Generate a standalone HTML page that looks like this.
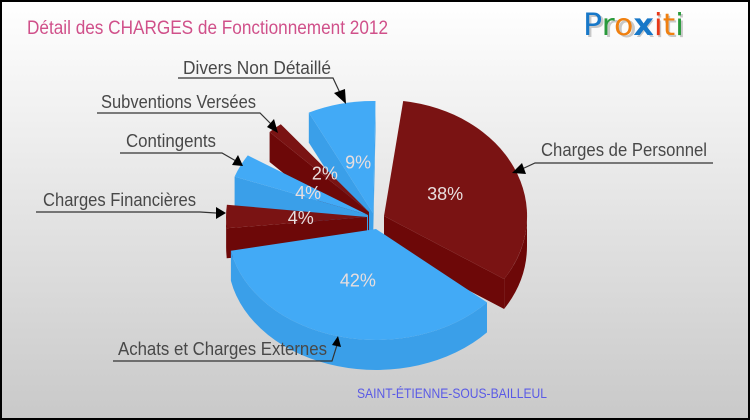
<!DOCTYPE html>
<html lang="fr">
<head>
<meta charset="utf-8">
<title>Détail des CHARGES de Fonctionnement 2012</title>
<style>
html,body{margin:0;padding:0;background:#fff}
svg{display:block}
text{font-family:"Liberation Sans",sans-serif}
.lbl{font-size:18px;fill:#484848}
.lead{fill:none;stroke:#333;stroke-width:1.2}
.head{fill:#000}
</style>
</head>
<body>
<svg id="chart" xmlns="http://www.w3.org/2000/svg" width="750" height="420" viewBox="0 0 750 420">
<defs>
<linearGradient id="bg" x1="0" y1="0" x2="0" y2="1"><stop offset="0" stop-color="#ffffff"/><stop offset="1" stop-color="#c9c9c9"/></linearGradient>
</defs>
<rect x="1" y="1" width="748" height="418" fill="url(#bg)" stroke="#000" stroke-width="2"/>
<text x="27" y="34" font-size="19" fill="#d0508a" textLength="361" lengthAdjust="spacingAndGlyphs">Détail des CHARGES de Fonctionnement 2012</text>
<g>
<text x="585" y="37" font-size="30" fill="#c8c8c8" textLength="101" lengthAdjust="spacingAndGlyphs" style="font-family:'DejaVu Sans',sans-serif">Proxiti</text>
<text x="583" y="35" font-size="30" textLength="101" lengthAdjust="spacingAndGlyphs" style="font-family:'DejaVu Sans',sans-serif"><tspan fill="#1878c8">P</tspan><tspan fill="#2a9a3c">r</tspan><tspan fill="#f08010">o</tspan><tspan fill="#1878c8" font-weight="bold">x</tspan><tspan fill="#e83818">i</tspan><tspan fill="#f08010">t</tspan><tspan fill="#2a9a3c">i</tspan></text>
</g>
<g id="slices"></g>
<g>
<g>
<text class="lbl" x="183" y="74" textLength="148" lengthAdjust="spacingAndGlyphs">Divers Non Détaillé</text>
<path class="lead" d="M178 78H333L341 95"/><path class="head" d="M346 104L334 93L345 89Z"/>
</g>
<g>
<text class="lbl" x="101" y="108" textLength="155" lengthAdjust="spacingAndGlyphs">Subventions Versées</text>
<path class="lead" d="M97 113H260L272 125"/><path class="head" d="M278 133L267 127L274 119Z"/>
</g>
<g>
<text class="lbl" x="126" y="147" textLength="90" lengthAdjust="spacingAndGlyphs">Contingents</text>
<path class="lead" d="M120 153H222L236 161"/><path class="head" d="M243 166L232 165L238 155Z"/>
</g>
<g>
<text class="lbl" x="43" y="206" textLength="153" lengthAdjust="spacingAndGlyphs">Charges Financières</text>
<path class="lead" d="M36 212H200L216 213"/><path class="head" d="M226 213L216 207V219Z"/>
</g>
<g>
<text class="lbl" x="541" y="156" textLength="166" lengthAdjust="spacingAndGlyphs">Charges de Personnel</text>
<path class="lead" d="M713 163H535L522 169"/><path class="head" d="M512 173L522 163L526 174Z"/>
</g>
<g>
<text class="lbl" x="118" y="355" textLength="209" lengthAdjust="spacingAndGlyphs">Achats et Charges Externes</text>
<path class="lead" d="M113 361H332L337 345"/><path class="head" d="M338 336L332 345L341 347Z"/>
</g>
</g>
<text x="357" y="398" font-size="14" fill="#5a5ae6" textLength="190" lengthAdjust="spacingAndGlyphs">SAINT-ÉTIENNE-SOUS-BAILLEUL</text>
</svg>
<script>
const categories = ["Charges de Personnel", "Achats et Charges Externes", "Charges Financières", "Contingents", "Subventions Versées", "Divers Non Détaillé"];
const shares = [38, 42, 4, 4, 2, 9];
const percentLabels = ["38%", "42%", "4%", "4%", "2%", "9%"];

function drawPie() {
  const svgNS = "http://www.w3.org/2000/svg";
  const root = document.getElementById("slices");
  const depth = 30;
  const palette = [
    {top: "#7a1313", side: "#6d0808"},
    {top: "#42aaf6", side: "#3a9fe9"}
  ];
  const paletteOf = [0, 1, 0, 1, 0, 1];
  const apexX = [384, 376, 367, 368, 369, 373];
  const apexY = [216, 229, 217, 215, 212, 213];
  const radX = [143, 148, 141, 142, 142, 145];
  const radY = [116, 111, 112, 112, 112, 112];
  const gaps = [8.5, 5.5, 13.7, 13.4, 12.1, 6.7];
  const drawOrder = [5, 4, 3, 2, 0, 1];
  const total = shares.reduce((a, b) => a + b, 0);
  const usable = 360 - gaps.reduce((a, b) => a + b, 0);
  const rad = d => d * Math.PI / 180;

  const geometry = [];
  let angle = -82.3;
  shares.forEach((v, i) => {
    const sweep = v / total * usable;
    geometry.push({
      a0: angle,
      a1: angle + sweep,
      mid: angle + sweep / 2,
      ax: apexX[i],
      ay: apexY[i],
      rx: radX[i],
      ry: radY[i]
    });
    angle += sweep + gaps[i];
  });

  const pt = (g, a, dy) => [g.ax + g.rx * Math.cos(rad(a)), g.ay + g.ry * Math.sin(rad(a)) + (dy || 0)];
  const fmt = p => p[0].toFixed(1) + " " + p[1].toFixed(1);

  function addPath(d, fill, name) {
    const el = document.createElementNS(svgNS, "path");
    el.setAttribute("d", d);
    el.setAttribute("fill", fill);
    
    
    root.appendChild(el);
  }

  function radialWall(g, a, fill) {
    const p = pt(g, a);
    const q = pt(g, a, depth);
    const d = "M" + g.ax + " " + g.ay + "L" + fmt(p) + "L" + fmt(q) +
      "L" + g.ax + " " + (g.ay + depth) + "Z";
    addPath(d, fill, "slice-radial-wall");
  }

  function outerWall(g, from, to, fill) {
    [-360, 0, 360].forEach(k => {
      const s = Math.max(from, k);
      const e = Math.min(to, k + 180);
      if (e <= s) return;
      const large = e - s > 180 ? 1 : 0;
      const d = "M" + fmt(pt(g, s)) + "A" + g.rx + " " + g.ry + " 0 " + large + " 1 " + fmt(pt(g, e)) +
        "L" + fmt(pt(g, e, depth)) + "A" + g.rx + " " + g.ry + " 0 " + large + " 0 " + fmt(pt(g, s, depth)) + "Z";
      addPath(d, fill, "slice-outer-wall");
    });
  }

  drawOrder.forEach(i => {
    const g = geometry[i];
    const c = palette[paletteOf[i]];
    if (Math.cos(rad(g.a0)) < 0) radialWall(g, g.a0, c.side);
    if (Math.cos(rad(g.a1)) > 0) radialWall(g, g.a1, c.side);
    outerWall(g, g.a0, g.a1, c.side);
    const large = g.a1 - g.a0 > 180 ? 1 : 0;
    const d = "M" + g.ax + " " + g.ay + "L" + fmt(pt(g, g.a0)) +
      "A" + g.rx + " " + g.ry + " 0 " + large + " 1 " + fmt(pt(g, g.a1)) + "Z";
    addPath(d, c.top, "slice-" + categories[i].toLowerCase().replace(/[^a-z]+/g, "-"));
  });

  percentLabels.forEach((t, i) => {
    const g = geometry[i];
    const el = document.createElementNS(svgNS, "text");
    el.setAttribute("x", (g.ax + 0.47 * g.rx * Math.cos(rad(g.mid))).toFixed(1));
    el.setAttribute("y", (g.ay + 0.47 * g.ry * Math.sin(rad(g.mid)) + 7).toFixed(1));
    el.setAttribute("text-anchor", "middle");
    el.setAttribute("font-size", "18");
    el.setAttribute("fill", "#e8dede");
    
    
    el.textContent = t;
    root.appendChild(el);
  });
}
drawPie();
</script>
</body>
</html>
